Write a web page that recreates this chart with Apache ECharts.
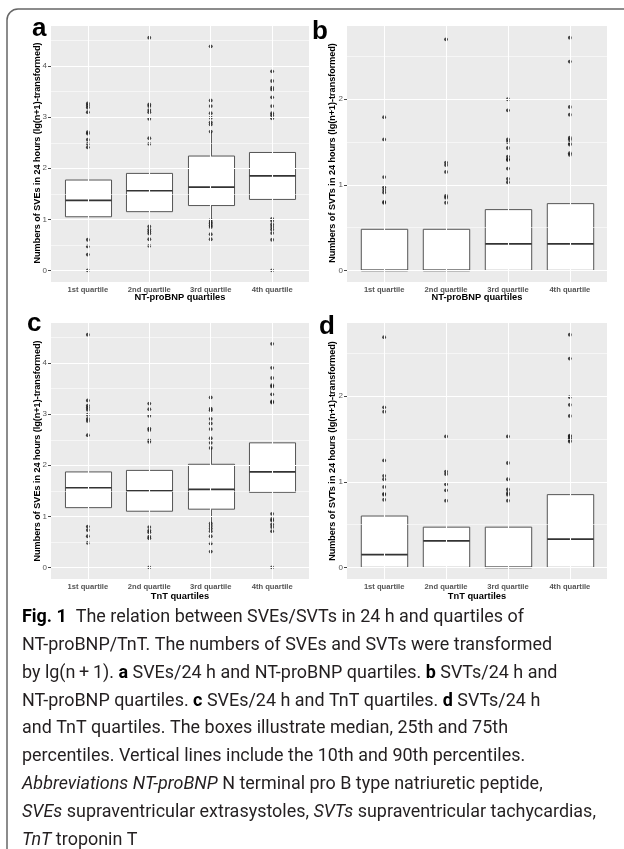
<!DOCTYPE html>
<html>
<head>
<meta charset="utf-8">
<script src="https://cdn.jsdelivr.net/npm/echarts@6/dist/echarts.min.js"></script>
<style>html,body{margin:0;padding:0;background:#fff;}#chart{width:624px;height:849px;}</style>
</head>
<body>
<div id="chart"></div>
<script>
// ---------- data ----------
const categories = ['1st quartile', '2nd quartile', '3rd quartile', '4th quartile'];
const yTicksSVE = [0, 1, 2, 3, 4];
const yTicksSVT = [0, 1, 2];

// boxes: [lower whisker, Q1, median, Q3, upper whisker]
const boxA = [[0.69, 1.05, 1.37, 1.77, 2.40], [0.88, 1.15, 1.56, 1.90, 2.46], [1.01, 1.27, 1.63, 2.24, 2.71], [1.02, 1.39, 1.85, 2.31, 2.97]];
const outA = [
  [3.27, 3.23, 3.19, 3.10, 2.71, 2.68, 2.56, 2.48, 2.41, 0.60, 0.47, 0.31, 0],
  [4.56, 3.25, 3.22, 3.14, 3.10, 2.97, 2.59, 2.48, 0.86, 0.80, 0.76, 0.72, 0.61, 0.48],
  [4.39, 3.33, 3.22, 3.08, 2.99, 2.90, 2.86, 2.72, 0.99, 0.95, 0.92, 0.88, 0.85, 0.71, 0.61],
  [3.90, 3.71, 3.58, 3.54, 3.39, 3.22, 3.08, 3.04, 2.98, 1.01, 0.97, 0.90, 0.85, 0.80, 0.73, 0.60, 0]
];
const boxB = [[0, 0, 0, 0.48, 0.71], [0, 0, 0, 0.48, 0.71], [0, 0, 0.31, 0.71, 1.02], [0, 0, 0.31, 0.78, 1.35]];
const outB = [
  [1.79, 1.53, 1.09, 0.97, 0.94, 0.91, 0.80, 0.79],
  [2.70, 1.26, 1.23, 1.15, 0.87, 0.85, 0.79],
  [2.00, 1.87, 1.53, 1.50, 1.43, 1.33, 1.30, 1.29, 1.19, 1.07, 1.03],
  [2.72, 2.44, 1.91, 1.82, 1.55, 1.53, 1.49, 1.47, 1.37, 1.35]
];
const boxC = [[0.80, 1.17, 1.56, 1.87, 2.59], [0.80, 1.10, 1.50, 1.90, 2.46], [0.86, 1.14, 1.53, 2.02, 2.34], [1.05, 1.47, 1.87, 2.44, 3.25]];
const outC = [
  [4.56, 3.27, 3.17, 3.13, 3.09, 2.99, 2.91, 2.87, 2.59, 0.80, 0.73, 0.61, 0.48],
  [3.21, 3.10, 2.97, 2.72, 2.69, 2.49, 2.46, 0.79, 0.72, 0.69, 0.60, 0.57, 0],
  [3.33, 3.11, 3.08, 2.91, 2.82, 2.71, 2.53, 2.44, 2.34, 0.86, 0.81, 0.76, 0.71, 0.61, 0.47, 0.31],
  [4.38, 3.91, 3.71, 3.57, 3.54, 3.39, 3.25, 3.23, 1.05, 0.95, 0.92, 0.84, 0.79, 0.71, 0]
];
const boxD = [[0, 0, 0.15, 0.60, 0.79], [0, 0, 0.31, 0.47, 0.77], [0, 0, 0, 0.47, 0.78], [0, 0, 0.33, 0.85, 1.48]];
const outD = [
  [2.69, 1.87, 1.82, 1.25, 1.07, 1.03, 0.94, 0.86, 0.85, 0.79],
  [1.53, 1.12, 1.09, 0.97, 0.90, 0.78],
  [1.53, 1.22, 1.03, 0.91, 0.87, 0.85, 0.78],
  [2.72, 2.44, 1.99, 1.90, 1.77, 1.54, 1.53, 1.51, 1.49, 1.47]
];

const panelLetters = ['a', 'b', 'c', 'd'];
const xTitles = ['NT-proBNP quartiles', 'NT-proBNP quartiles', 'TnT quartiles', 'TnT quartiles'];
const yTitles = [
  'Numbers of SVEs in 24 hours (lg(n+1)-transformed)',
  'Numbers of SVTs in 24 hours (lg(n+1)-transformed)',
  'Numbers of SVEs in 24 hours (lg(n+1)-transformed)',
  'Numbers of SVTs in 24 hours (lg(n+1)-transformed)'
];
const captionLines = [
  '{b|Fig. 1}  The relation between SVEs/SVTs in 24 h and quartiles of',
  'NT-proBNP/TnT. The numbers of SVEs and SVTs were transformed',
  'by lg(n\u2009+\u20091). {b|a} SVEs/24 h and NT-proBNP quartiles. {b|b} SVTs/24 h and',
  'NT-proBNP quartiles. {b|c} SVEs/24 h and TnT quartiles. {b|d} SVTs/24 h',
  'and TnT quartiles. The boxes illustrate median, 25th and 75th',
  'percentiles. Vertical lines include the 10th and 90th percentiles.',
  '{i|Abbreviations NT-proBNP} N terminal pro B type natriuretic peptide,',
  '{i|SVEs} supraventricular extrasystoles, {i|SVTs} supraventricular tachycardias,',
  '{i|TnT} troponin T'
];

// ---------- layout ----------
const panels = [
  { box: boxA, out: outA, ticks: yTicksSVE, grid: { left: 51, top: 26, width: 258, height: 256 }, letter: [32, 42], ytitle: [38, 153], xtitle: [180, 297.5] },
  { box: boxB, out: outB, ticks: yTicksSVT, grid: { left: 347, top: 26, width: 260, height: 256 }, letter: [312, 45], ytitle: [333, 153], xtitle: [477, 297.5] },
  { box: boxC, out: outC, ticks: yTicksSVE, grid: { left: 51, top: 323, width: 258, height: 256 }, letter: [27, 337], ytitle: [38, 451], xtitle: [180, 596.5] },
  { box: boxD, out: outD, ticks: yTicksSVT, grid: { left: 347, top: 323, width: 260, height: 256 }, letter: [319, 340], ytitle: [333, 451], xtitle: [477, 596.5] }
];

const FONT = 'Liberation Sans, Arial, sans-serif';
const grids = [], xAxes = [], yAxes = [], series = [], graphics = [];

panels.forEach((p, i) => {
  let maxV = 0;
  p.out.forEach(a => a.forEach(v => { if (v > maxV) maxV = v; }));
  p.box.forEach(b => b.forEach(v => { if (v > maxV) maxV = v; }));
  const pad = maxV * 0.05;
  grids.push(Object.assign({ show: true, backgroundColor: '#ebebeb', borderWidth: 0, containLabel: false }, p.grid));
  const xTicks = categories.map((c, k) => k + 1);
  xAxes.push({
    type: 'value', gridIndex: i, min: 0.4, max: 4.6,
    axisLine: { show: false }, splitLine: { show: false },
    axisTick: { show: true, customValues: xTicks, length: 3, lineStyle: { color: '#444', width: 1 } },
    axisLabel: { customValues: xTicks, margin: 3.5, fontSize: 7.6, fontWeight: 'bold', color: '#555', fontFamily: FONT,
      formatter: v => (Math.abs(v - Math.round(v)) < 1e-6 ? (categories[Math.round(v) - 1] || '') : '') }
  });
  yAxes.push({
    type: 'value', gridIndex: i, min: -pad, max: maxV + pad,
    axisLine: { show: false }, splitLine: { show: false },
    axisTick: { show: true, customValues: p.ticks, length: 3, lineStyle: { color: '#444', width: 1 } },
    axisLabel: { customValues: p.ticks, margin: 4, fontSize: 8, color: '#555', fontFamily: FONT,
      formatter: v => (Math.abs(v - Math.round(v)) < 1e-6 ? String(Math.round(v)) : '') }
  });
  // grid lines
  const ml = [];
  p.ticks.forEach(t => {
    ml.push({ yAxis: t, lineStyle: { width: 1.1 } });
    if (t + 0.5 < maxV + pad) ml.push({ yAxis: t + 0.5, lineStyle: { width: 0.55 } });
  });
  xTicks.forEach(t => ml.push({ xAxis: t, lineStyle: { width: 1.1 } }));
  series.push({
    type: 'scatter', xAxisIndex: i, yAxisIndex: i, data: [], z: 1, silent: true,
    markLine: { silent: true, symbol: ['none', 'none'], label: { show: false }, animation: false,
      lineStyle: { color: '#ffffff', type: 'solid', opacity: 1 }, data: ml }
  });
  // boxes
  series.push({
    type: 'custom', xAxisIndex: i, yAxisIndex: i, z: 2, silent: true,
    data: p.box.map((b, k) => [k + 1].concat(b)),
    encode: { x: 0, y: [1, 2, 3, 4, 5] },
    renderItem: (params, api) => {
      const x = api.value(0);
      const pl = api.coord([x, api.value(1)]);
      const p1 = api.coord([x, api.value(2)]);
      const pm = api.coord([x, api.value(3)]);
      const p3 = api.coord([x, api.value(4)]);
      const ph = api.coord([x, api.value(5)]);
      const hw = api.size([0.375, 0])[0];
      const cx = Math.round(pl[0]) + 0.5;
      return {
        type: 'group',
        children: [
          { type: 'line', shape: { x1: cx, y1: pl[1], x2: cx, y2: p1[1] }, style: { stroke: '#555', lineWidth: 1 } },
          { type: 'line', shape: { x1: cx, y1: p3[1], x2: cx, y2: ph[1] }, style: { stroke: '#555', lineWidth: 1 } },
          { type: 'rect', shape: { x: cx - hw, y: p3[1], width: hw * 2, height: p1[1] - p3[1] }, style: { fill: '#ffffff', stroke: '#555', lineWidth: 1 } },
          { type: 'line', shape: { x1: cx - hw, y1: pm[1], x2: cx + hw, y2: pm[1] }, style: { stroke: '#333', lineWidth: 1.7 } }
        ]
      };
    }
  });
  // outliers
  const pts = [];
  p.out.forEach((arr, k) => arr.forEach(v => pts.push([k + 1, v])));
  series.push({
    type: 'scatter', xAxisIndex: i, yAxisIndex: i, z: 3, silent: true,
    symbol: 'circle', symbolSize: 3.8, itemStyle: { color: '#111' }, data: pts
  });
  // texts
  graphics.push({ type: 'text', x: p.letter[0], y: p.letter[1], style: { text: panelLetters[i], font: 'bold 26px ' + FONT, fill: '#000', verticalAlign: 'bottom', align: 'left' } });
  graphics.push({ type: 'text', x: p.ytitle[0], y: p.ytitle[1], rotation: Math.PI / 2, style: { text: yTitles[i], font: 'bold 9.05px ' + FONT, fill: '#000', align: 'center', verticalAlign: 'middle' } });
  graphics.push({ type: 'text', x: p.xtitle[0], y: p.xtitle[1], style: { text: xTitles[i], font: 'bold 9.3px ' + FONT, fill: '#000', align: 'center', verticalAlign: 'middle' } });
});

// frame
graphics.push({ type: 'line', shape: { x1: 7, y1: 20, x2: 7, y2: 849 }, style: { stroke: '#666', lineWidth: 1.5 } });
graphics.push({ type: 'line', shape: { x1: 18, y1: 9, x2: 624, y2: 9 }, style: { stroke: '#666', lineWidth: 1.5 } });
graphics.push({ type: 'arc', shape: { cx: 18, cy: 20, r: 11, startAngle: Math.PI, endAngle: Math.PI * 1.5, clockwise: true }, style: { fill: null, stroke: '#666', lineWidth: 1.5 } });

// caption
const CAP = 'Roboto, sans-serif';
const capSize = 18.5;
captionLines.forEach((line, k) => {
  const y0 = 627 + k * 27.8;
  graphics.push({
    type: 'text', x: 22, y: y0, scaleX: 0.97, originX: 0, originY: 0,
    style: {
      text: line, fontFamily: CAP, fontSize: capSize, fill: '#231f20', verticalAlign: 'bottom', align: 'left',
      rich: {
        b: { fontFamily: CAP, fontSize: capSize, fontWeight: 'bold', fill: '#000' },
        i: { fontFamily: CAP, fontSize: capSize, fontStyle: 'italic', fill: '#231f20' }
      }
    }
  });
});

const chart = echarts.init(document.getElementById('chart'), null, { renderer: 'canvas' });
chart.setOption({
  animation: false,
  backgroundColor: '#ffffff',
  grid: grids, xAxis: xAxes, yAxis: yAxes, series: series,
  graphic: { elements: graphics }
});
</script>
</body>
</html>
